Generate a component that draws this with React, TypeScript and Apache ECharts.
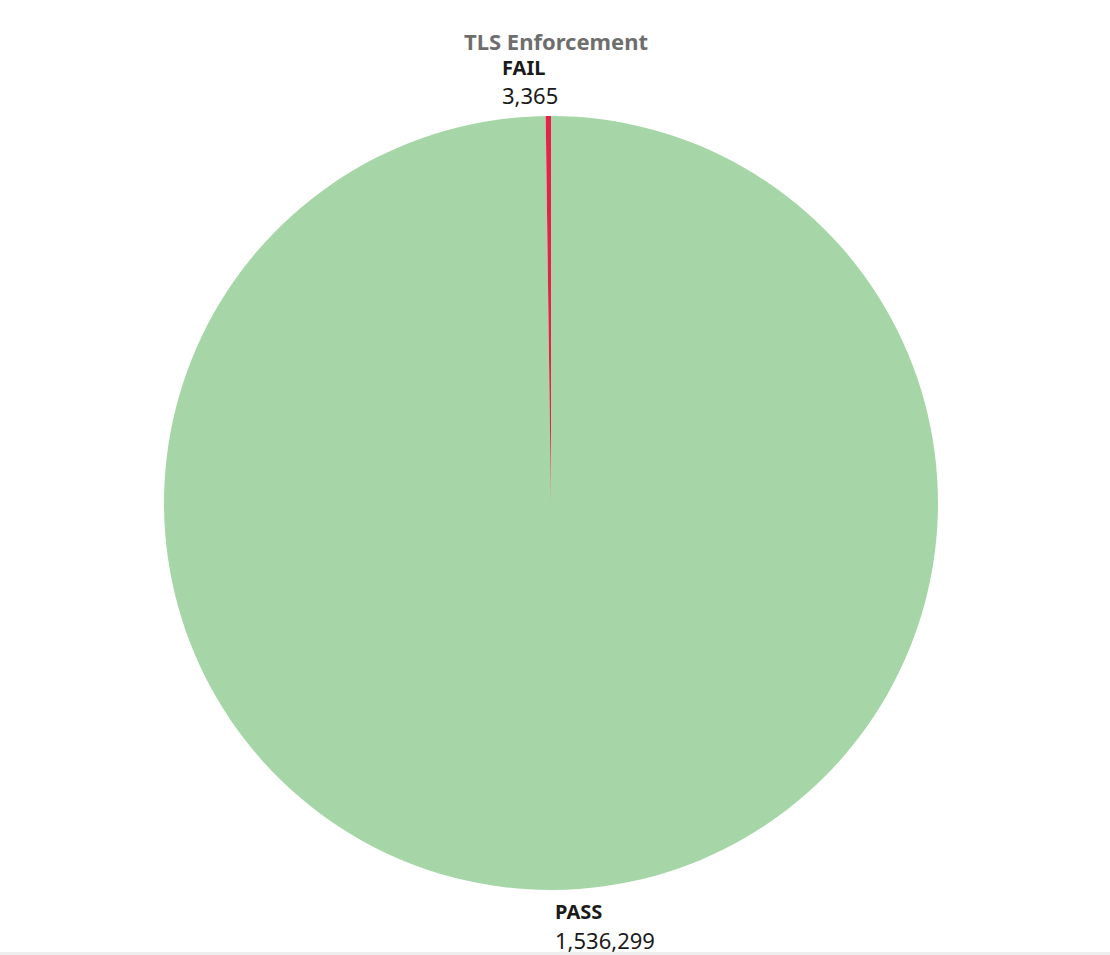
import React, { useEffect, useRef } from "react";
import * as echarts from "echarts";

const categories = ["PASS", "FAIL"];
const values = [1536299, 3365];
const colors = ["#a6d6a7", "#e3234a"];
const titleText = "TLS Enforcement";

const fmt = (v: number) => v.toLocaleString("en-US");

export default function App() {
  const ref = useRef<HTMLDivElement>(null);
  useEffect(() => {
    if (!ref.current) return;
    const chart = echarts.init(ref.current, undefined, { renderer: "svg" });
    const font = "'Noto Sans', 'Open Sans', sans-serif";
    const nameStyle = (text: string) => ({
      text,
      fontFamily: font,
      fontSize: 20,
      fontWeight: "bold",
      fill: "#1a1a1a",
      lineHeight: 20,
      verticalAlign: "top",
    });
    const numStyle = (text: string) => ({
      text,
      fontFamily: font,
      fontSize: 22,
      fill: "#1a1a1a",
      lineHeight: 22,
      verticalAlign: "top",
    });
    chart.setOption({
      animation: false,
      backgroundColor: "#ffffff",
      title: {
        text: titleText,
        left: 551,
        textAlign: "center",
        top: 24,
        textStyle: { fontFamily: font, fontSize: 22, fontWeight: "bold", color: "#6e6e6e", lineHeight: 24 },
      },
      graphic: [
        { type: "text", x: 502, y: 57, style: nameStyle(categories[1]) },
        { type: "text", x: 502, y: 84, style: numStyle(fmt(values[1])) },
        { type: "text", x: 555, y: 901, style: nameStyle(categories[0]) },
        { type: "text", x: 555, y: 929, style: numStyle(fmt(values[0])) },
        {
          type: "rect",
          left: 0,
          top: 952,
          shape: { width: 1110, height: 3 },
          style: { fill: "#eeeeee" },
        },
      ],
      series: [
        {
          type: "pie",
          center: [551, 503],
          radius: [0, 387],
          startAngle: 90,
          clockwise: true,
          minAngle: 0,
          label: { show: false },
          labelLine: { show: false },
          itemStyle: { borderWidth: 0 },
          emphasis: { disabled: true },
          data: categories.map((c, i) => ({
            name: c,
            value: values[i],
            itemStyle: { color: colors[i] },
          })),
        },
      ],
    });
    return () => chart.dispose();
  }, []);
  return (
    <div
      ref={ref}
      style={{ position: "fixed", left: 0, top: 0, width: 1110, height: 955 }}
    />
  );
}
